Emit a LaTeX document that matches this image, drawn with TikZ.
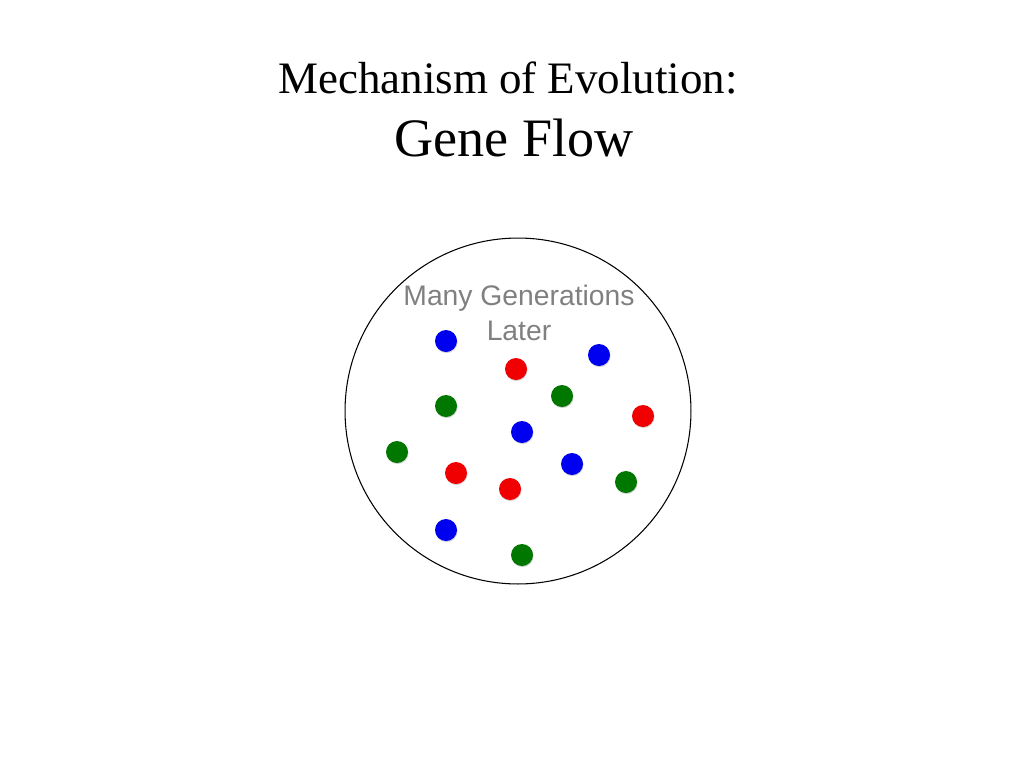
\documentclass[tikz,border=0pt]{standalone}
\usepackage{fontspec}
\setmainfont{Liberation Serif}
\newfontfamily\labelfont{Liberation Sans}
\usetikzlibrary{positioning,shadows}
\definecolor{dotblue}{RGB}{0,0,240}
\definecolor{dotred}{RGB}{240,0,0}
\definecolor{dotgreen}{RGB}{0,120,0}
\tikzset{
    allele/.style={circle, minimum size=0.44cm, inner sep=0pt, draw=none,
        drop shadow={shadow xshift=0.3pt, shadow yshift=-0.6pt, opacity=0.35}},
    title/.style={inner sep=0pt, font=\fontsize{25.6}{29}\selectfont},
    caption/.style={align=center, text=gray, inner sep=0pt,
        font=\labelfont\fontsize{16.1}{19.5}\selectfont}
}
\begin{document}
\begin{tikzpicture}[x=0.02cm, y=-0.02cm]
\useasboundingbox (0,0) rectangle (1024,768);
\node[title] (head) at (508,78) {Mechanism of Evolution:};
\node[title, font=\fontsize{30.8}{34}\selectfont] (gene) at (514,138) {Gene Flow};
\node[circle, draw, semithick, minimum size=6.92cm] (pop) at (518,411) {};
\node[caption] (gen) at (519,313) {Many Generations\\Later};
% alleles in the population
\foreach \px/\py/\c [count=\i] in {446/341/dotblue, 599/355/dotblue, 522/432/dotblue,
    572/464/dotblue, 446/530/dotblue, 516/369/dotred, 643/416/dotred, 456/473/dotred,
    510/489/dotred, 446/406/dotgreen, 562/396/dotgreen, 397/452/dotgreen,
    626/482/dotgreen, 522/555/dotgreen}
    \node[allele, fill=\c] (a\i) at (\px,\py) {};
\end{tikzpicture}
\end{document}
